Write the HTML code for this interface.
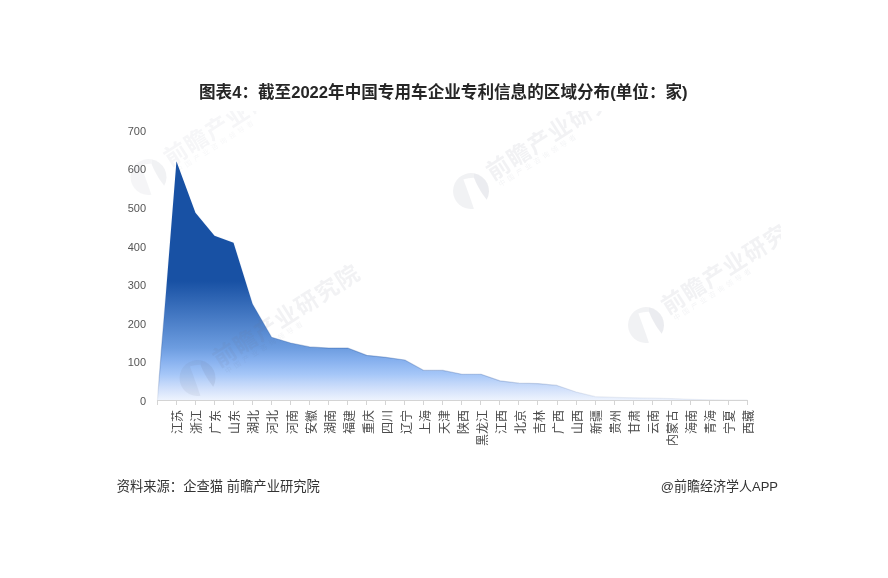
<!DOCTYPE html>
<html lang="zh-CN"><head><meta charset="utf-8"><title>图表4：截至2022年中国专用车企业专利信息的区域分布</title>
<style>
html,body{margin:0;padding:0;background:#fff}
body{width:888px;height:578px;overflow:hidden;position:relative;font-family:"Liberation Sans","Noto Sans CJK SC",sans-serif}
svg{position:absolute;left:0;top:0;display:block}
.t{font-family:"Liberation Sans","Noto Sans CJK SC",sans-serif}
</style></head><body>
<svg width="888" height="578" viewBox="0 0 888 578" class="t">
<defs>
<linearGradient id="ag" gradientUnits="userSpaceOnUse" x1="0" y1="161" x2="0" y2="401">
<stop offset="0" stop-color="#1851a4"/>
<stop offset="0.5" stop-color="#1851a4"/>
<stop offset="0.78" stop-color="#6d9de0"/>
<stop offset="0.83" stop-color="#86b0ee"/>
<stop offset="0.89" stop-color="#a6c7f8"/>
<stop offset="0.92" stop-color="#bdd4f9"/>
<stop offset="0.954" stop-color="#d4e2fb"/>
<stop offset="1" stop-color="#f0f5fe"/>
</linearGradient>
<linearGradient id="sg" gradientUnits="userSpaceOnUse" x1="0" y1="161" x2="0" y2="401">
<stop offset="0" stop-color="#1a4fa0" stop-opacity="0"/>
<stop offset="0.55" stop-color="#1a4fa0" stop-opacity="0.1"/>
<stop offset="0.78" stop-color="#1f4f98" stop-opacity="0.32"/>
<stop offset="0.9" stop-color="#35599a" stop-opacity="0.28"/>
<stop offset="1" stop-color="#5a6f9a" stop-opacity="0.08"/>
</linearGradient>
<clipPath id="wc"><rect x="112" y="111" width="669" height="349"/></clipPath>
</defs>
<rect width="888" height="578" fill="#fff"/>
<polygon points="157.40,400.50 157.40,400.50 176.43,161.36 195.46,212.66 214.49,235.80 233.52,242.74 252.55,304.07 271.58,337.24 290.61,343.03 309.64,346.89 328.67,348.04 347.70,348.04 366.73,355.37 385.76,357.30 404.79,360.00 423.82,370.41 442.85,370.41 461.88,374.27 480.91,374.27 499.94,380.83 518.97,383.14 538.00,383.53 557.03,385.46 576.06,392.01 595.09,396.64 614.12,397.41 633.15,397.80 652.18,398.19 671.21,398.57 690.24,399.34 709.27,399.73 728.30,400.11 747.33,400.11 747.33,400.50" fill="url(#ag)"/>
<polyline points="157.40,400.50 176.43,161.36 195.46,212.66 214.49,235.80 233.52,242.74 252.55,304.07 271.58,337.24 290.61,343.03 309.64,346.89 328.67,348.04 347.70,348.04 366.73,355.37 385.76,357.30 404.79,360.00 423.82,370.41 442.85,370.41 461.88,374.27 480.91,374.27 499.94,380.83 518.97,383.14 538.00,383.53 557.03,385.46 576.06,392.01 595.09,396.64 614.12,397.41 633.15,397.80 652.18,398.19 671.21,398.57 690.24,399.34 709.27,399.73 728.30,400.11 747.33,400.11" fill="none" stroke="url(#sg)" stroke-width="1.2" stroke-linejoin="round"/>
<g stroke="#d4d4d4" stroke-width="1" fill="none">
<line x1="157.0" y1="400.5" x2="748.0" y2="400.5"/>
<line x1="157.5" y1="400.5" x2="157.5" y2="405.0"/><line x1="176.5" y1="400.5" x2="176.5" y2="405.0"/><line x1="195.5" y1="400.5" x2="195.5" y2="405.0"/><line x1="214.5" y1="400.5" x2="214.5" y2="405.0"/><line x1="233.5" y1="400.5" x2="233.5" y2="405.0"/><line x1="252.5" y1="400.5" x2="252.5" y2="405.0"/><line x1="271.5" y1="400.5" x2="271.5" y2="405.0"/><line x1="290.5" y1="400.5" x2="290.5" y2="405.0"/><line x1="309.5" y1="400.5" x2="309.5" y2="405.0"/><line x1="328.5" y1="400.5" x2="328.5" y2="405.0"/><line x1="347.5" y1="400.5" x2="347.5" y2="405.0"/><line x1="366.5" y1="400.5" x2="366.5" y2="405.0"/><line x1="385.5" y1="400.5" x2="385.5" y2="405.0"/><line x1="404.5" y1="400.5" x2="404.5" y2="405.0"/><line x1="423.5" y1="400.5" x2="423.5" y2="405.0"/><line x1="442.5" y1="400.5" x2="442.5" y2="405.0"/><line x1="461.5" y1="400.5" x2="461.5" y2="405.0"/><line x1="480.5" y1="400.5" x2="480.5" y2="405.0"/><line x1="499.5" y1="400.5" x2="499.5" y2="405.0"/><line x1="518.5" y1="400.5" x2="518.5" y2="405.0"/><line x1="537.5" y1="400.5" x2="537.5" y2="405.0"/><line x1="557.5" y1="400.5" x2="557.5" y2="405.0"/><line x1="576.5" y1="400.5" x2="576.5" y2="405.0"/><line x1="595.5" y1="400.5" x2="595.5" y2="405.0"/><line x1="614.5" y1="400.5" x2="614.5" y2="405.0"/><line x1="633.5" y1="400.5" x2="633.5" y2="405.0"/><line x1="652.5" y1="400.5" x2="652.5" y2="405.0"/><line x1="671.5" y1="400.5" x2="671.5" y2="405.0"/><line x1="690.5" y1="400.5" x2="690.5" y2="405.0"/><line x1="709.5" y1="400.5" x2="709.5" y2="405.0"/><line x1="728.5" y1="400.5" x2="728.5" y2="405.0"/><line x1="747.5" y1="400.5" x2="747.5" y2="405.0"/>
</g>
<g font-size="11" fill="#555">
<text x="146" y="134.80" text-anchor="end">700</text>
<text x="146" y="173.37" text-anchor="end">600</text>
<text x="146" y="211.94" text-anchor="end">500</text>
<text x="146" y="250.51" text-anchor="end">400</text>
<text x="146" y="289.09" text-anchor="end">300</text>
<text x="146" y="327.66" text-anchor="end">200</text>
<text x="146" y="366.23" text-anchor="end">100</text>
<text x="146" y="404.80" text-anchor="end">0</text>
</g>
<g font-size="12" fill="#4a4a4a">
<text transform="translate(182.33,410) rotate(-90)" text-anchor="end">江苏</text>
<text transform="translate(201.36,410) rotate(-90)" text-anchor="end">浙江</text>
<text transform="translate(220.39,410) rotate(-90)" text-anchor="end">广东</text>
<text transform="translate(239.42,410) rotate(-90)" text-anchor="end">山东</text>
<text transform="translate(258.45,410) rotate(-90)" text-anchor="end">湖北</text>
<text transform="translate(277.48,410) rotate(-90)" text-anchor="end">河北</text>
<text transform="translate(296.51,410) rotate(-90)" text-anchor="end">河南</text>
<text transform="translate(315.54,410) rotate(-90)" text-anchor="end">安徽</text>
<text transform="translate(334.57,410) rotate(-90)" text-anchor="end">湖南</text>
<text transform="translate(353.60,410) rotate(-90)" text-anchor="end">福建</text>
<text transform="translate(372.63,410) rotate(-90)" text-anchor="end">重庆</text>
<text transform="translate(391.66,410) rotate(-90)" text-anchor="end">四川</text>
<text transform="translate(410.69,410) rotate(-90)" text-anchor="end">辽宁</text>
<text transform="translate(429.72,410) rotate(-90)" text-anchor="end">上海</text>
<text transform="translate(448.75,410) rotate(-90)" text-anchor="end">天津</text>
<text transform="translate(467.78,410) rotate(-90)" text-anchor="end">陕西</text>
<text transform="translate(486.81,410) rotate(-90)" text-anchor="end">黑龙江</text>
<text transform="translate(505.84,410) rotate(-90)" text-anchor="end">江西</text>
<text transform="translate(524.87,410) rotate(-90)" text-anchor="end">北京</text>
<text transform="translate(543.90,410) rotate(-90)" text-anchor="end">吉林</text>
<text transform="translate(562.93,410) rotate(-90)" text-anchor="end">广西</text>
<text transform="translate(581.96,410) rotate(-90)" text-anchor="end">山西</text>
<text transform="translate(600.99,410) rotate(-90)" text-anchor="end">新疆</text>
<text transform="translate(620.02,410) rotate(-90)" text-anchor="end">贵州</text>
<text transform="translate(639.05,410) rotate(-90)" text-anchor="end">甘肃</text>
<text transform="translate(658.08,410) rotate(-90)" text-anchor="end">云南</text>
<text transform="translate(677.11,410) rotate(-90)" text-anchor="end">内蒙古</text>
<text transform="translate(696.14,410) rotate(-90)" text-anchor="end">海南</text>
<text transform="translate(715.17,410) rotate(-90)" text-anchor="end">青海</text>
<text transform="translate(734.20,410) rotate(-90)" text-anchor="end">宁夏</text>
<text transform="translate(753.23,410) rotate(-90)" text-anchor="end">西藏</text>
</g>
<g clip-path="url(#wc)"><g fill="#6d758c" opacity="0.135">
<g transform="translate(148.5,177)" opacity="0.7">
<path opacity="0.7" d="M2.9,17.77 A18,18 0 1 1 3,-17.75 L3,-13.3 C0,-13.5 -4,-12.8 -7.6,-11.4 C-4.5,-3 0,9 2.9,17.77 Z"/>
<path d="M3,-17.75 A18,18 0 0 1 15.7,8.8 C9,0 5,-8 3,-13.3 Z"/>
<g transform="rotate(-32.5)">
<text x="24" y="3.5" font-size="23" font-weight="bold" letter-spacing="1.2" opacity="0.68">前瞻产业研究院</text>
<text x="27" y="12.5" font-size="7" letter-spacing="3.4" opacity="0.6">中国产业咨询领导者</text>
</g>
</g>
<g transform="translate(471,191)" opacity="1">
<path opacity="0.7" d="M2.9,17.77 A18,18 0 1 1 3,-17.75 L3,-13.3 C0,-13.5 -4,-12.8 -7.6,-11.4 C-4.5,-3 0,9 2.9,17.77 Z"/>
<path d="M3,-17.75 A18,18 0 0 1 15.7,8.8 C9,0 5,-8 3,-13.3 Z"/>
<g transform="rotate(-32.5)">
<text x="24" y="3.5" font-size="23" font-weight="bold" letter-spacing="1.2" opacity="0.68">前瞻产业研究院</text>
<text x="27" y="12.5" font-size="7" letter-spacing="3.4" opacity="0.6">中国产业咨询领导者</text>
</g>
</g>
<g transform="translate(197.5,378)" opacity="1">
<path opacity="0.7" d="M2.9,17.77 A18,18 0 1 1 3,-17.75 L3,-13.3 C0,-13.5 -4,-12.8 -7.6,-11.4 C-4.5,-3 0,9 2.9,17.77 Z"/>
<path d="M3,-17.75 A18,18 0 0 1 15.7,8.8 C9,0 5,-8 3,-13.3 Z"/>
<g transform="rotate(-32.5)">
<text x="24" y="3.5" font-size="23" font-weight="bold" letter-spacing="1.2" opacity="0.68">前瞻产业研究院</text>
<text x="27" y="12.5" font-size="7" letter-spacing="3.4" opacity="0.6">中国产业咨询领导者</text>
</g>
</g>
<g transform="translate(646,325)" opacity="1">
<path opacity="0.7" d="M2.9,17.77 A18,18 0 1 1 3,-17.75 L3,-13.3 C0,-13.5 -4,-12.8 -7.6,-11.4 C-4.5,-3 0,9 2.9,17.77 Z"/>
<path d="M3,-17.75 A18,18 0 0 1 15.7,8.8 C9,0 5,-8 3,-13.3 Z"/>
<g transform="rotate(-32.5)">
<text x="24" y="3.5" font-size="23" font-weight="bold" letter-spacing="1.2" opacity="0.68">前瞻产业研究院</text>
<text x="27" y="12.5" font-size="7" letter-spacing="3.4" opacity="0.6">中国产业咨询领导者</text>
</g>
</g>
</g></g>
<text x="443.3" y="97.8" text-anchor="middle" font-size="16.6" font-weight="bold" fill="#262626">图表4：截至2022年中国专用车企业专利信息的区域分布(单位：家)</text>
<text x="116.7" y="490.7" font-size="13.3" fill="#333">资料来源：企查猫 前瞻产业研究院</text>
<text x="778" y="490.8" text-anchor="end" font-size="13.3" fill="#333" textLength="117.3" lengthAdjust="spacingAndGlyphs">@前瞻经济学人APP</text>
</svg>
</body></html>
